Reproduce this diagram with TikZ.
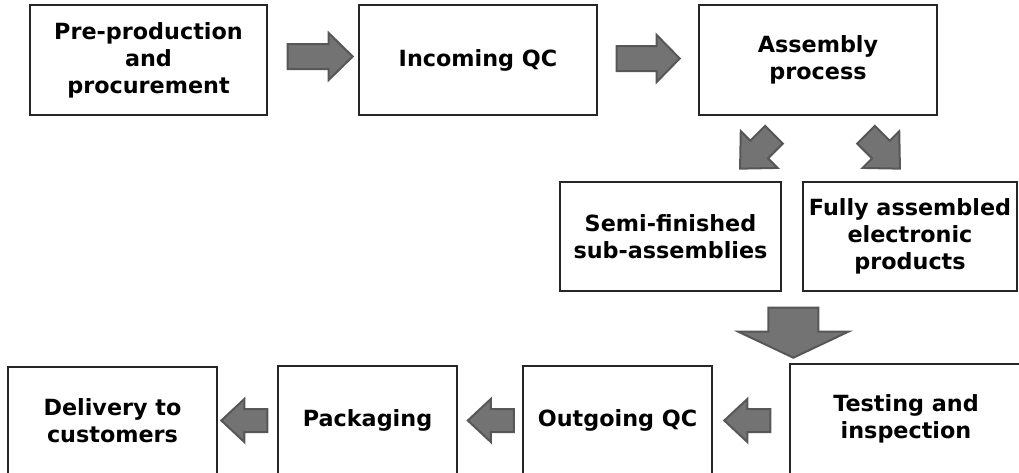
\documentclass[tikz,border=0pt]{standalone}
\usepackage{fontspec}
\setmainfont{DejaVu Sans}
\usetikzlibrary{calc}
\tikzset{
  stagebox/.style={draw=black!85, line width=1.4pt, fill=white, align=center,
    inner sep=0pt, font=\bfseries\fontsize{22.3}{27}\selectfont},
  arrowpaint/.style={fill=black!55, draw=black!66, line width=2pt, line join=miter},
  arrow len/.store in=\arL, shaft half/.store in=\arS,
  head half/.store in=\arH, head len/.store in=\arK,
  arrow len=65, shaft half=12.5, head half=23.5, head len=24,
  blockarrow/.pic={
    \path[arrowpaint] (0,-\arS) -- ({\arL-\arK},-\arS) -- ({\arL-\arK},-\arH)
      -- (\arL,0) -- ({\arL-\arK},\arH) -- ({\arL-\arK},\arS) -- (0,\arS) -- cycle;
  },
  small left/.style={arrow len=46, shaft half=11.5, head half=21.5, head len=23},
  diag/.style={arrow len=48, shaft half=12.5, head half=26, head len=27},
  big down/.style={arrow len=50, shaft half=25, head half=55, head len=26}
}
\begin{document}
\begin{tikzpicture}[x=1pt,y=-1pt]
  \useasboundingbox (0,0) rectangle (1019,472);

  % top row
  \node[stagebox, minimum width=237, minimum height=110] (pre)  at (148.5,60) {Pre-production\\and\\procurement};
  \node[stagebox, minimum width=238, minimum height=110] (inqc) at (478,60)   {Incoming QC};
  \node[stagebox, minimum width=238, minimum height=110] (asm)  at (818,60)   {Assembly\\process};

  % middle row
  \node[stagebox, minimum width=221, minimum height=109] (semi) at (670.5,236.5) {Semi-finished\\sub-assemblies};
  \node[stagebox, minimum width=214, minimum height=109] (full) at (910,236.5)   {Fully assembled\\electronic\\products};

  % bottom row
  \node[stagebox, minimum width=209, minimum height=108] (deliv) at (112.5,421)  {Delivery to\\customers};
  \node[stagebox, minimum width=179, minimum height=108] (pack)  at (367.5,420)  {Packaging};
  \node[stagebox, minimum width=189, minimum height=108] (outqc) at (617.5,420)  {Outgoing QC};
  \node[stagebox, minimum width=232, minimum height=110] (test)  at (906,419)    {Testing and\\inspection};

  % block arrows between the stages
  \pic at ($(pre.east)+(20,-3.5)$) {blockarrow};
  \pic[arrow len=63, head len=23] at ($(inqc.east)+(19,-1.5)$) {blockarrow};
  \pic[diag, rotate=-135] at ($(asm.south)+(-44,19)$) {blockarrow};
  \pic[diag, rotate=-45]  at ($(asm.south)+(48,19)$) {blockarrow};
  \pic[big down, rotate=-90] at ($(full.south west)+(-9,16)$) {blockarrow};
  \pic[small left, rotate=180] at ($(test.west)+(-19,1.5)$) {blockarrow};
  \pic[small left, rotate=180] at ($(outqc.west)+(-8.5,0.5)$) {blockarrow};
  \pic[small left, rotate=180] at ($(pack.west)+(-10,0.5)$) {blockarrow};
\end{tikzpicture}
\end{document}
